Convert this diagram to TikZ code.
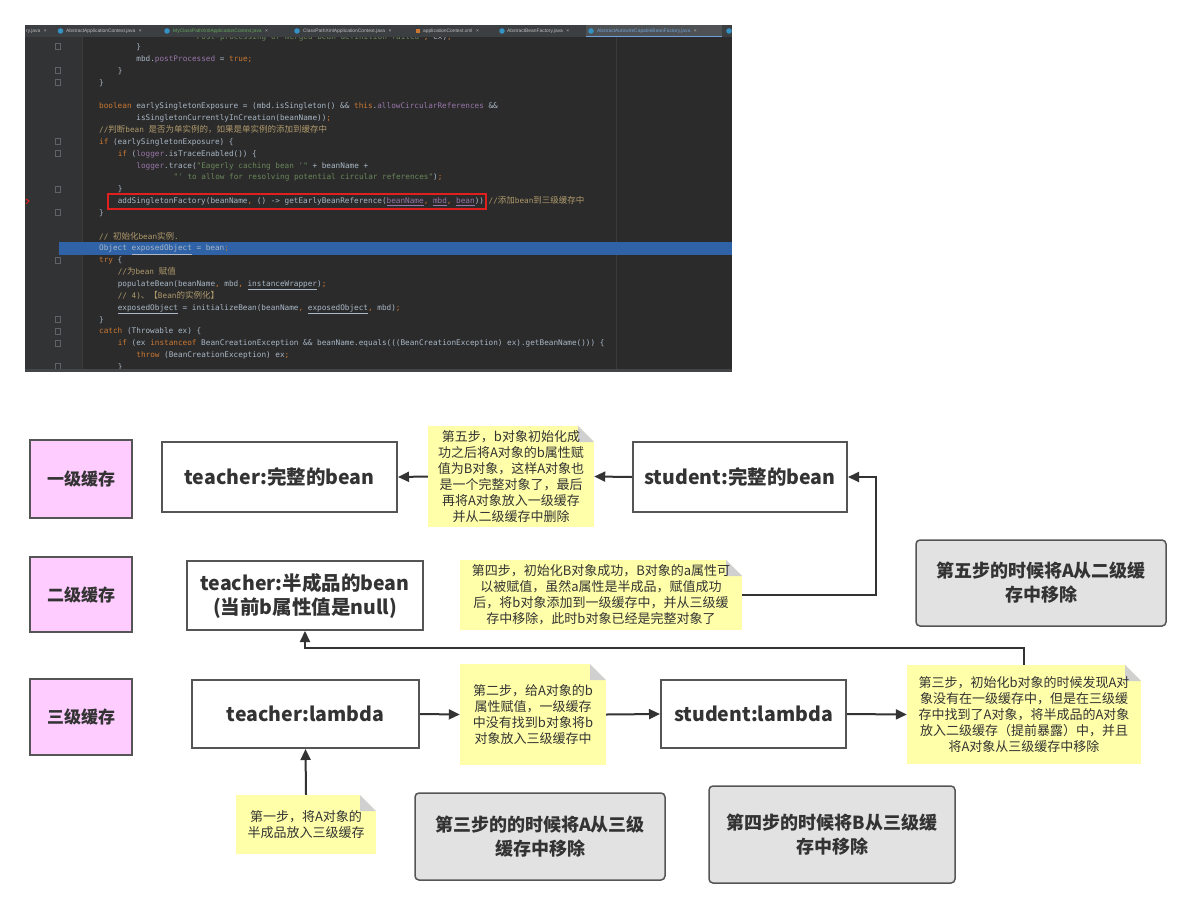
\documentclass[tikz,border=0pt]{standalone}
\usepackage{fontspec}
\setmainfont{Noto Sans CJK SC}
\setmonofont{DejaVu Sans Mono}
\newfontfamily\cjkcode{Noto Sans CJK SC}
\newfontfamily\tabfont{Liberation Sans}
\usetikzlibrary{arrows.meta}
\definecolor{cbg}{HTML}{2B2B2B}
\definecolor{cgut}{HTML}{313335}
\definecolor{ctab}{HTML}{3C3F41}
\definecolor{ctabsel}{HTML}{4E5254}
\definecolor{ctabtxt}{HTML}{BBBBBB}
\definecolor{ctabgrn}{HTML}{62A35C}
\definecolor{ctabblue}{HTML}{6E9FD8}
\definecolor{cicon}{HTML}{3592C4}
\definecolor{ctext}{HTML}{A9B7C6}
\definecolor{ckw}{HTML}{CC7832}
\definecolor{cfl}{HTML}{9876AA}
\definecolor{cst}{HTML}{6A8759}
\definecolor{ccm}{HTML}{B09A6C}
\definecolor{chl}{HTML}{2F62A6}
\definecolor{cred}{HTML}{E0201F}
\definecolor{cmargin}{HTML}{3A3A3A}
\definecolor{cfoldm}{HTML}{606366}
\definecolor{cbord}{HTML}{555555}
\definecolor{cline}{HTML}{333333}
\definecolor{ctxt}{HTML}{333333}
\definecolor{cpink}{HTML}{FFCCFF}
\definecolor{cgray}{HTML}{E2E2E2}
\definecolor{cnote}{HTML}{FFFFAA}
\definecolor{cfold}{HTML}{D0D0D0}
\newcommand\jkw[1]{\textcolor{ckw}{#1}}
\newcommand\jfl[1]{\textcolor{cfl}{#1}}
\newcommand\jst[1]{\textcolor{cst}{#1}}
\newcommand\jcm[1]{\textcolor{ccm}{#1}}
\newcommand\jul[1]{\underline{#1}}
\newcommand\jcn[1]{{\cjkcode\fontsize{8.5}{9}\selectfont #1}}
\newcommand\jline[3]{\node[codetxt] (code#1) at (#2, {49.5+11.85*#1}) {#3};}
\newcommand\jx{\hspace{3.5pt}{\color{ctabtxt}×}}
\tikzset{
  codetxt/.style={anchor=base west, inner sep=0, font=\ttfamily\fontsize{7.7}{9}\selectfont, text=ctext},
  tabtxt/.style={anchor=base west, inner sep=0, font=\tabfont\fontsize{4.9}{6}\selectfont, text=ctabtxt},
  tabicon/.style={circle, fill=cicon, inner sep=0, minimum size=5.5},
  foldmark/.style={draw=cfoldm, line width=0.7, inner sep=0, minimum width=5, minimum height=6},
  box/.style={draw=cbord, line width=2, fill=white, font=\bfseries\fontsize{19.5}{24}\selectfont, text=ctxt, align=center, inner sep=0},
  lvl/.style={draw=cbord, line width=1.5, fill=cpink, font=\bfseries\fontsize{17}{20}\selectfont, text=ctxt, align=center, inner sep=0, minimum width=102},
  gbox/.style={draw=cbord, line width=1.5, fill=cgray, rounded corners=4, font=\bfseries\fontsize{18}{24}\selectfont, text=ctxt, align=center, inner sep=0},
  note/.style={fill=cnote, font=\fontsize{13}{16}\selectfont, text=ctxt, align=center, inner sep=0,
    path picture={
      \fill[white] (path picture bounding box.north east) -- ++(-16pt,0pt) -- ++(16pt,-16pt) -- cycle;
      \fill[cfold] ([xshift=-16pt]path picture bounding box.north east) -- ++(0pt,-16pt) -- ++(16pt,0pt) -- cycle;
    }},
  arr/.style={draw=cline, line width=2, -{Triangle[length=11pt,width=10pt]}},
}
\begin{document}
\begin{tikzpicture}[x=1pt,y=-1pt]
\useasboundingbox (0,0) rectangle (1190,907);
\fill[white] (0,0) rectangle (1190,907);
% ---------- code screenshot ----------
\fill[cbg] (25,25) rectangle (732,372);
\fill[cgut] (25,37) rectangle (82,369);
\draw[cmargin, line width=0.8] (82,37) -- (82,369);
\draw[cmargin, line width=0.8] (616,37) -- (616,369);
\fill[chl] (59,242) rectangle (732,255);
\node[codetxt] (codem1) at (192,39.6) {\jst{"Post-processing of merged bean definition failed"}\jkw{,} ex)\jkw{;}};
\jline{0}{136.2}{\}}
\jline{1}{136.2}{mbd.\jfl{postProcessed} = \jkw{true;}}
\jline{2}{117.6}{\}}
\jline{3}{99}{\}}
\jline{5}{99}{\jkw{boolean} earlySingletonExposure = (mbd.isSingleton() \&\& \jkw{this}.\jfl{allowCircularReferences} \&\&}
\jline{6}{136.2}{isSingletonCurrentlyInCreation(beanName))\jkw{;}}
\jline{7}{99}{\jcm{//\jcn{判断}bean \jcn{是否为单实例的，如果是单实例的添加到缓存中}}}
\jline{8}{99}{\jkw{if} (earlySingletonExposure) \{}
\jline{9}{117.6}{\jkw{if} (\jfl{logger}.isTraceEnabled()) \{}
\jline{10}{136.2}{\jfl{logger}.trace(\jst{"Eagerly caching bean '"} + beanName +}
\jline{11}{173.4}{\jst{"' to allow for resolving potential circular references"})\jkw{;}}
\jline{12}{117.6}{\}}
\jline{13}{117.6}{addSingletonFactory(beanName\jkw{,} () -> getEarlyBeanReference(\jfl{\jul{beanName}}\jkw{,} \jfl{\jul{mbd}}\jkw{,} \jfl{\jul{bean}}))\jkw{;}\jcm{//\jcn{添加}bean\jcn{到三级缓存中}}}
\jline{14}{99}{\}}
\jline{16}{99}{\jcm{// \jcn{初始化}bean\jcn{实例}.}}
\jline{17}{99}{Object \jul{exposedObject} = bean\jkw{;}}
\jline{18}{99}{\jkw{try} \{}
\jline{19}{117.6}{\jcm{//\jcn{为}bean \jcn{赋值}}}
\jline{20}{117.6}{populateBean(beanName\jkw{,} mbd\jkw{,} \jul{instanceWrapper})\jkw{;}}
\jline{21}{117.6}{\jcm{// 4)\jcn{、【}Bean\jcn{的实例化】}}}
\jline{22}{117.6}{\jul{exposedObject} = initializeBean(beanName\jkw{,} \jul{exposedObject}\jkw{,} mbd)\jkw{;}}
\jline{23}{99}{\}}
\jline{24}{99}{\jkw{catch} (Throwable ex) \{}
\jline{25}{117.6}{\jkw{if} (ex \jkw{instanceof} BeanCreationException \&\& beanName.equals(((BeanCreationException) ex).getBeanName())) \{}
\jline{26}{136.2}{\jkw{throw} (BeanCreationException) ex\jkw{;}}
\jline{27}{117.6}{\}}
\node[draw=cred, line width=1.2, minimum width=378, minimum height=15, inner sep=0] (redbox) at (297,201.5) {};
\draw[cred, line width=1] (26,199) -- (29,201) -- (26,204);
% fold markers
\foreach \n in {0,2,3,8,9,12,14,18,23,24,25,27}{
  \node[foldmark] (fm\n) at (57.5,{46.7+11.85*\n}) {};
}
% tab bar
\fill[ctab] (25,25) rectangle (732,37);
\fill[ctabsel] (586,25) rectangle (722,37);
\draw[ctabblue, line width=1.2] (586,36.2) -- (722,36.2);
\node[tabtxt] (tab0) at (26,33) {ry.java\jx};
\node[tabicon] (ic1) at (60.5,31) {};
\node[tabtxt] (tab1) at (66,33) {AbstractApplicationContext.java\jx};
\node[tabicon] (ic2) at (167,31) {};
\node[tabtxt, text=ctabgrn] (tab2) at (173,33) {MyClassPathXmlApplicationContext.java\jx};
\node[tabicon] (ic3) at (297,31) {};
\node[tabtxt] (tab3) at (303,33) {ClassPathXmlApplicationContext.java\jx};
\node[tabicon, fill=ckw, rectangle, minimum size=4.5] (ic4) at (418,31) {};
\node[tabtxt] (tab4) at (423,33) {applicationContext.xml\jx};
\node[tabicon] (ic5) at (502,31) {};
\node[tabtxt] (tab5) at (507,33) {AbstractBeanFactory.java\jx};
\node[tabicon] (ic6) at (591,31) {};
\node[tabtxt, text=ctabblue] (tab6) at (597,33) {AbstractAutowireCapableBeanFactory.java\jx};
\node[tabicon] (ic7) at (729,31) {};
\fill[cfoldm!70!black] (25,369) rectangle (732,372);
% ---------- diagram ----------
\node[lvl, minimum height=78] (l1) at (81,479) {一级缓存};
\node[lvl, minimum height=75] (l2) at (81,594.5) {二级缓存};
\node[lvl, minimum height=76] (l3) at (81,717) {三级缓存};

\node[box, minimum width=235, minimum height=70] (tfull) at (279.5,477) {teacher:完整的bean};
\node[box, minimum width=214, minimum height=70] (sfull) at (740,477) {student:完整的bean};
\node[box, minimum width=236, minimum height=69] (thalf) at (305,595.5) {teacher:半成品的bean\\(当前b属性值是null)};
\node[box, minimum width=227, minimum height=68] (tl) at (305.5,714) {teacher:lambda};
\node[box, minimum width=185, minimum height=68] (sl) at (753.5,714) {student:lambda};

\node[note, minimum width=166, minimum height=101] (n5) at (511,476.5) {第五步，b对象初始化成\\功之后将A对象的b属性赋\\值为B对象，这样A对象也\\是一个完整对象了，最后\\再将A对象放入一级缓存\\并从二级缓存中删除};
\node[note, minimum width=282, minimum height=70] (n4) at (601,595) {第四步，初始化B对象成功，B对象的a属性可\\以被赋值，虽然a属性是半成品，赋值成功\\后，将b对象添加到一级缓存中，并从三级缓\\存中移除，此时b对象已经是完整对象了};
\node[note, minimum width=146, minimum height=101] (n2) at (533,714.5) {第二步，给A对象的b\\属性赋值，一级缓存\\中没有找到b对象将b\\对象放入三级缓存中};
\node[note, minimum width=234, minimum height=99] (n3) at (1024,714.5) {第三步，初始化b对象的时候发现A对\\象没有在一级缓存中，但是在三级缓\\存中找到了A对象，将半成品的A对象\\放入二级缓存（提前暴露）中，并且\\将A对象从三级缓存中移除};
\node[note, minimum width=140, minimum height=59] (n1) at (306,824.5) {第一步，将A对象的\\半成品放入三级缓存};

\node[gbox, minimum width=250, minimum height=86] (g5) at (1041,583) {第五步的时候将A从二级缓\\存中移除};
\node[gbox, minimum width=250, minimum height=87] (g3) at (540,836.5) {第三步的的时候将A从三级\\缓存中移除};
\node[gbox, minimum width=246, minimum height=97] (g4) at (832,834.5) {第四步的时候将B从三级缓\\存中移除};

\draw[arr] (sfull.west) -- (n5.east);
\draw[arr] (n5.west) -- (tfull.east);
\draw[arr] (n4.east) -- ++(134,0) |- (sfull.east);
\draw[arr] (n3.north) -- ++(0,-17) -| (thalf.south);
\draw[arr] (tl.east) -- (n2.west);
\draw[arr] (n2.east) -- (sl.west);
\draw[arr] (sl.east) -- (n3.west);
\draw[arr] (n1.north) -- (tl.south);
\end{tikzpicture}
\end{document}
